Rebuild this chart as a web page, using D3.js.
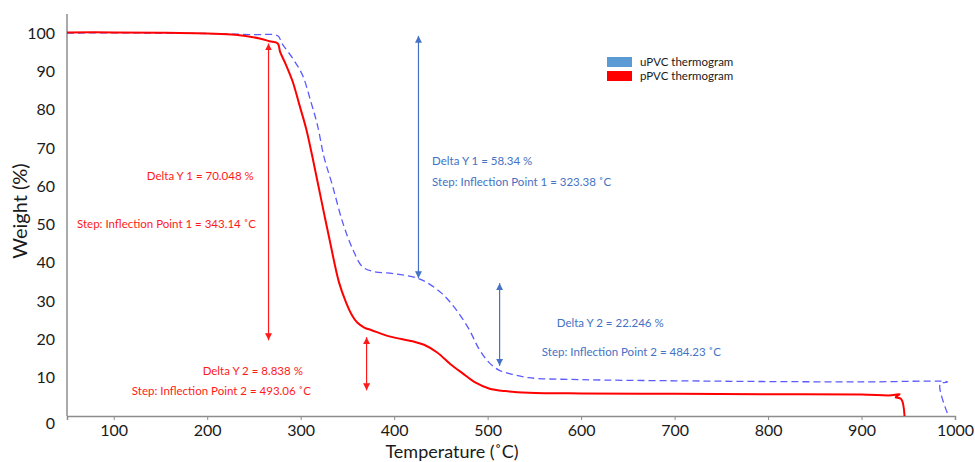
<!DOCTYPE html>
<html>
<head>
<meta charset="utf-8">
<script src="https://cdn.jsdelivr.net/npm/d3@7"></script>
<style>
  body { margin: 0; background: #fff; }
  svg { display: block; font-family: Lato, "Open Sans", sans-serif; }
</style>
</head>
<body>
<script>
// TGA thermograms of uPVC and pPVC
var svgWidth = 975;
var svgHeight = 462;

var chartMargin = { top: 14, right: 20, bottom: 46, left: 67 };
var chartWidth = svgWidth - chartMargin.left - chartMargin.right;
var chartHeight = svgHeight - chartMargin.top - chartMargin.bottom;

// data
var xTicks = [100, 200, 300, 400, 500, 600, 700, 800, 900, 1000];
var yTicks = [0, 10, 20, 30, 40, 50, 60, 70, 80, 90, 100];

var pTemp = [50, 100, 150, 200, 230, 256, 266.6, 275.5, 278, 284.5, 291.5, 298.7, 305.8, 312.2, 321.8, 330.7, 341, 348.5, 355.2, 360.5, 368, 376, 394.7, 419.6, 432, 446, 460, 473, 487.2, 501.4, 519, 544, 600, 700, 800, 900, 932, 940.8, 936.5, 942.5, 946];
var pWeight = [100.2, 100.2, 100.1, 99.9, 99.6, 98.6, 97.9, 97.3, 95.1, 91.6, 87.3, 81.2, 75.1, 68.1, 56.7, 46.3, 34.9, 29.7, 26.2, 24.4, 23.1, 22.4, 20.8, 19.5, 18.6, 16.6, 13.6, 11.2, 8.7, 7.2, 6.5, 6.1, 5.9, 5.8, 5.7, 5.6, 5.4, 5.7, 4.9, 4.4, 0];

var uTemp = [50, 100, 150, 200, 250, 275.5, 280, 291.5, 302, 311, 318, 325, 334, 344.9, 355.6, 366, 377, 402, 425, 437.4, 451.6, 465.9, 480, 490.8, 501.4, 512, 526.3, 544, 600, 700, 800, 900, 992, 984, 993];
var uWeight = [100, 100.1, 100, 99.9, 99.6, 99.3, 97.3, 93.4, 89, 82, 75.9, 67.6, 60.2, 50.6, 43.6, 39.0, 37.8, 37.1, 36.0, 34.5, 31.9, 27.9, 22.7, 17.5, 14, 12, 10.9, 10.0, 9.5, 9.2, 9.0, 8.9, 8.9, 8.3, 0];

var seriesNames = ["uPVC thermogram", "pPVC thermogram"];

// annotation arrows: temperature, weight at each tip
var arrowSeries = ["p", "p", "u", "u"];
var arrowTemp = [265.6, 370.5, 426, 512.8];
var arrowFrom = [97.3, 20.6, 99.3, 34.7];
var arrowTo = [19.8, 6.7, 36.0, 13.1];

// annotation labels
var labelSeries = ["p", "p", "p", "p", "u", "u", "u", "u"];
var labelText = [
  "Delta Y 1 = 70.048 %",
  "Step: Inflection Point 1 = 343.14 ˚C",
  "Delta Y 2 = 8.838 %",
  "Step: Inflection Point 2 = 493.06 ˚C",
  "Delta Y 1 = 58.34 %",
  "Step: Inflection Point 1 = 323.38 ˚C",
  "Delta Y 2 = 22.246 %",
  "Step: Inflection Point 2 = 484.23 ˚C"
];
var labelTemp = [135.4, 60.7, 195.1, 119.4, 440.6, 440.6, 574, 558];
var labelWeight = [62.7, 50.1, 11.8, 6.5, 66.7, 61.2, 24.3, 16.7];

var colors = { u: "#5b5bff", p: "#ff0000" };
var noteColors = { u: "#4472c4", p: "#ff1a1a" };

var svg = d3.select("body")
  .append("svg")
  .attr("width", svgWidth)
  .attr("height", svgHeight);

var defs = svg.append("defs");
["u", "p"].forEach(function(k) {
  defs.append("marker")
    .attr("id", "arrow-" + k)
    .attr("viewBox", "0 0 10 10")
    .attr("refX", 10)
    .attr("refY", 5)
    .attr("markerWidth", 7)
    .attr("markerHeight", 7)
    .attr("markerUnits", "userSpaceOnUse")
    .attr("orient", "auto-start-reverse")
    .append("path")
    .attr("d", "M0,0 L10,5 L0,10 Z")
    .attr("fill", noteColors[k]);
});

var chartGroup = svg.append("g")
  .attr("transform", `translate(${chartMargin.left}, ${chartMargin.top})`);

var xScale = d3.scaleLinear()
  .domain([50, 1000])
  .range([0, chartWidth]);

var yScale = d3.scaleLinear()
  .domain([0, 105])
  .range([chartHeight, 0]);

// axes
var bottomAxis = d3.axisBottom(xScale).tickValues([50].concat(xTicks)).tickSize(4).tickPadding(5)
  .tickFormat(d => d === 50 ? "" : d);
var leftAxis = d3.axisLeft(yScale).tickValues(yTicks).tickSize(0).tickPadding(12);

var xAxisG = chartGroup.append("g")
  .attr("transform", `translate(0, ${chartHeight})`)
  .call(bottomAxis);
var yAxisG = chartGroup.append("g")
  .call(leftAxis);

[xAxisG, yAxisG].forEach(function(g) {
  g.select(".domain").attr("stroke", "#8c8c8c").attr("stroke-width", 1.5);
  g.selectAll(".tick line").attr("stroke", "#8c8c8c");
  g.selectAll(".tick text")
    .attr("fill", "#1a1a1a")
    .style("font-size", "16px")
    .style("font-family", "Lato, sans-serif");
});
yAxisG.select(".domain").attr("d", `M0,${chartHeight}V0`);
yAxisG.selectAll(".tick").filter(d => d === 0).select("text").attr("dy", "0.75em");

// axis titles
svg.append("text")
  .attr("x", 452)
  .attr("y", 458)
  .attr("text-anchor", "middle")
  .attr("fill", "#1a1a1a")
  .style("font-size", "18px")
  .text("Temperature (˚C)");

svg.append("text")
  .attr("transform", "translate(27, 211) rotate(-90)")
  .attr("text-anchor", "middle")
  .attr("fill", "#1a1a1a")
  .style("font-size", "20px")
  .text("Weight (%)");

// curves
var line = d3.line()
  .x(d => xScale(d[0]))
  .y(d => yScale(d[1]))
  .curve(d3.curveCatmullRom.alpha(0.5));

var uData = d3.zip(uTemp, uWeight);
var pData = d3.zip(pTemp, pWeight);

chartGroup.append("path")
  .datum(uData)
  .attr("fill", "none")
  .attr("stroke", colors.u)
  .attr("stroke-width", 1.3)
  .attr("stroke-dasharray", "7,4")
  .attr("d", line);

chartGroup.append("path")
  .datum(pData)
  .attr("fill", "none")
  .attr("stroke", colors.p)
  .attr("stroke-width", 2)
  .attr("d", line);

// arrows
chartGroup.selectAll(".note-arrow")
  .data(d3.range(arrowTemp.length))
  .enter().append("line")
  .attr("class", "note-arrow")
  .attr("x1", i => xScale(arrowTemp[i]))
  .attr("x2", i => xScale(arrowTemp[i]))
  .attr("y1", i => yScale(arrowFrom[i]))
  .attr("y2", i => yScale(arrowTo[i]))
  .attr("stroke", i => noteColors[arrowSeries[i]])
  .attr("stroke-width", 1.2)
  .attr("marker-start", i => `url(#arrow-${arrowSeries[i]})`)
  .attr("marker-end", i => `url(#arrow-${arrowSeries[i]})`);

// labels
chartGroup.selectAll(".note-label")
  .data(d3.range(labelText.length))
  .enter().append("text")
  .attr("class", "note-label")
  .attr("x", i => xScale(labelTemp[i]))
  .attr("y", i => yScale(labelWeight[i]))
  .attr("dy", "0.35em")
  .attr("fill", i => noteColors[labelSeries[i]])
  .style("font-size", "11.5px")
  .text(i => labelText[i]);

// legend
var legend = svg.append("g").attr("transform", "translate(607, 57)");
var legendColors = ["#5b9bd5", "#ff0000"];
seriesNames.forEach(function(name, i) {
  legend.append("rect")
    .attr("x", 0)
    .attr("y", i * 14)
    .attr("width", 25)
    .attr("height", 10)
    .attr("fill", legendColors[i]);
  legend.append("text")
    .attr("x", 33)
    .attr("y", i * 14 + 5)
    .attr("dy", "0.35em")
    .attr("fill", "#1a1a1a")
    .style("font-size", "11.5px")
    .text(name);
});
</script>
</body>
</html>
